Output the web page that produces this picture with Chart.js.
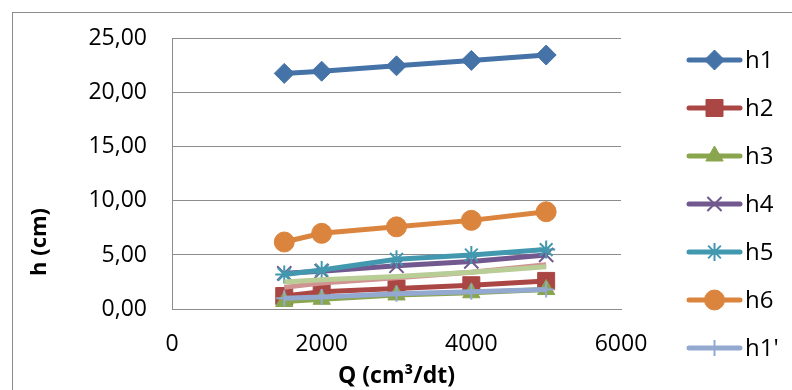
<!DOCTYPE html>
<html>
<head>
<meta charset="utf-8">
<script src="https://cdn.jsdelivr.net/npm/chart.js@4/dist/chart.umd.min.js"></script>
<style>
  html, body { margin: 0; padding: 0; background: #fff; overflow: hidden; }
  canvas { display: block; }
</style>
</head>
<body>
<canvas id="chart" width="792" height="390"></canvas>
<script>
// debit Q (cm3/dt)
const qValues = [1500, 2000, 3000, 4000, 5000];

const h1 = [21.8, 22.0, 22.5, 23.0, 23.5];
const h2 = [1.2, 1.6, 1.9, 2.2, 2.6];
const h3 = [0.7, 0.9, 1.3, 1.5, 1.8];
const h4 = [3.3, 3.5, 4.0, 4.4, 5.0];
const h5 = [3.2, 3.6, 4.6, 5.0, 5.5];
const h6 = [6.2, 7.0, 7.6, 8.2, 9.0];
const h1p = [1.0, 1.1, 1.4, 1.6, 1.8];
const h2p = [2.0, 2.4, 2.9, 3.4, 4.1];
const h3p = [2.5, 2.7, 3.0, 3.4, 3.9];

const yTicks = [0, 5, 10, 15, 20, 25];
const xTicks = [0, 2000, 4000, 6000];

const FONT = "'Open Sans', 'Liberation Sans', sans-serif";

const series = [
  { label: 'h1',  data: h1,  color: '#4572A7', style: 'rectRot',  r: 10, bw: 1 },
  { label: 'h2',  data: h2,  color: '#AA4643', style: 'rect',     r: 12, bw: 1 },
  { label: 'h3',  data: h3,  color: '#89A54E', style: 'triangle', r: 10, bw: 1 },
  { label: 'h4',  data: h4,  color: '#71588F', style: 'crossRot', r: 10, bw: 2 },
  { label: 'h5',  data: h5,  color: '#4198AF', style: 'star',     r: 9,  bw: 2 },
  { label: 'h6',  data: h6,  color: '#DB843D', style: 'circle',   r: 10, bw: 1 },
  { label: "h1'", data: h1p, color: '#93A9CF', style: 'cross',    r: 8,  bw: 2 },
  { label: "h2'", data: h2p, color: '#D19392', style: 'circle',   r: 0,  bw: 0 },
  { label: "h3'", data: h3p, color: '#B9CD96', style: 'circle',   r: 0,  bw: 0 }
];

const datasets = series.map((s, i) => ({
  label: s.label,
  data: qValues.map((q, j) => ({ x: q, y: s.data[j] })),
  borderColor: s.color,
  backgroundColor: s.color,
  borderWidth: 5,
  pointStyle: s.style,
  pointRadius: s.r,
  pointHoverRadius: s.r,
  pointBackgroundColor: s.color,
  pointBorderColor: s.color,
  pointBorderWidth: s.bw,
  tension: 0,
  order: -i   // excel puts later series on top
}));

// frame, y title and legend drawn by hand (legend line goes through the marker)
const excelLegend = {
  id: 'excelLegend',
  beforeDraw(chart) {
    const ctx = chart.ctx;
    ctx.save();
    ctx.strokeStyle = '#8c8c8c';
    ctx.lineWidth = 1;
    ctx.strokeRect(12.5, 12.5, 900, 900);
    ctx.restore();
  },
  afterDraw(chart) {
    const ctx = chart.ctx;
    ctx.save();
    // y axis title
    ctx.save();
    ctx.translate(40, 242);
    ctx.rotate(-Math.PI / 2);
    ctx.fillStyle = '#000';
    ctx.font = 'bold 22px ' + FONT;
    ctx.textAlign = 'center';
    ctx.textBaseline = 'middle';
    ctx.fillText('h (cm)', 0, 0);
    ctx.restore();

    // only the first 7 entries fit in the box
    series.slice(0, 7).forEach((s, i) => {
      const y = 60 + i * 48;
      ctx.strokeStyle = s.color;
      ctx.lineWidth = 5;
      ctx.lineCap = 'round';
      ctx.beginPath();
      ctx.moveTo(689, y);
      ctx.lineTo(740, y);
      ctx.stroke();
      if (s.r > 0) {
        ctx.fillStyle = s.color;
        ctx.strokeStyle = s.color;
        ctx.lineWidth = s.bw;
        ctx.lineCap = 'butt';
        Chart.helpers.drawPoint(ctx, { pointStyle: s.style, radius: s.r, rotation: 0, borderWidth: s.bw }, 714.5, y);
      }
      ctx.fillStyle = '#000';
      ctx.font = '24px ' + FONT;
      ctx.textBaseline = 'middle';
      ctx.textAlign = 'left';
      ctx.fillText(s.label, 745, y + 1);
    });
    ctx.restore();
  }
};

new Chart(document.getElementById('chart'), {
  type: 'line',
  data: { datasets },
  plugins: [excelLegend],
  options: {
    responsive: false,
    animation: false,
    layout: { padding: { left: 0, top: 37, right: 171, bottom: 0 } },
    plugins: { legend: { display: false }, tooltip: { enabled: false } },
    scales: {
      x: {
        type: 'linear',
        min: 0, max: 6000,
        afterBuildTicks: (scale) => { scale.ticks = xTicks.map(v => ({ value: v })); },
        afterFit: (scale) => { scale.height = 81; },
        grid: { display: false, drawTicks: false },
        border: { display: true, color: '#8c8c8c', width: 1 },
        ticks: { color: '#000', font: { family: FONT, size: 23 }, padding: 22, maxRotation: 0, callback: (v) => String(v) },
        title: { display: true, text: 'Q (cm³/dt)', color: '#000', font: { family: FONT, size: 23, weight: 'bold' }, padding: { top: 0, bottom: 0 } }
      },
      y: {
        min: 0, max: 25,
        afterBuildTicks: (scale) => { scale.ticks = yTicks.map(v => ({ value: v })); },
        afterFit: (scale) => { scale.width = 172; },
        grid: { color: '#8c8c8c', lineWidth: 1, drawTicks: false },
        border: { display: true, color: '#8c8c8c', width: 1 },
        ticks: {
          color: '#000', font: { family: FONT, size: 23 }, padding: 25,
          callback: (v) => v.toFixed(2).replace('.', ',')
        },
        title: { display: false }
      }
    }
  }
});
</script>
</body>
</html>
